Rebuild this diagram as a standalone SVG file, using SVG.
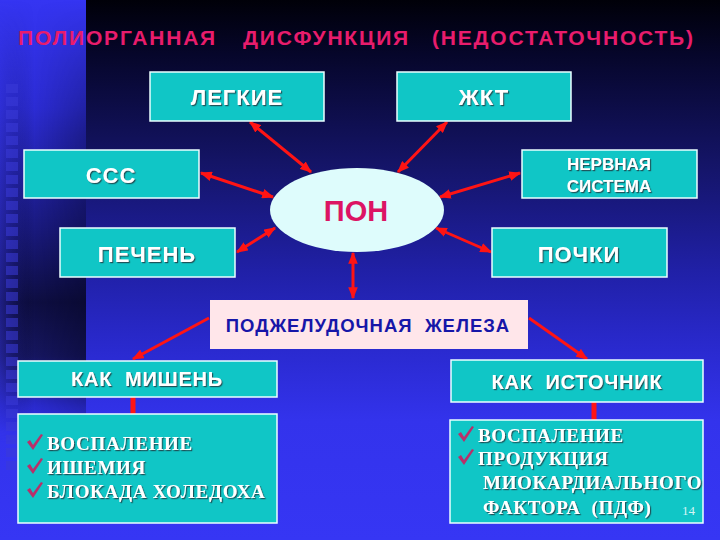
<svg xmlns="http://www.w3.org/2000/svg" width="720" height="540" viewBox="0 0 720 540">
<defs>
<linearGradient id="bgMain" x1="0" y1="0" x2="0" y2="1">
<stop offset="0" stop-color="#000008"/>
<stop offset="0.1" stop-color="#06062a"/>
<stop offset="0.3" stop-color="#141466"/>
<stop offset="0.5" stop-color="#2020a6"/>
<stop offset="0.65" stop-color="#2a2ad0"/>
<stop offset="0.78" stop-color="#3333ec"/>
<stop offset="1" stop-color="#3636f4"/>
</linearGradient>
<linearGradient id="bgStrip" x1="0" y1="0" x2="0" y2="1">
<stop offset="0" stop-color="#3535f2"/>
<stop offset="0.2" stop-color="#2c2cd4"/>
<stop offset="0.42" stop-color="#1a1a80"/>
<stop offset="0.56" stop-color="#0e0e42"/>
<stop offset="0.66" stop-color="#161660"/>
<stop offset="0.75" stop-color="#2a2acc"/>
<stop offset="0.8" stop-color="#3333ec"/>
<stop offset="1" stop-color="#3636f4"/>
</linearGradient>
<linearGradient id="stripShade" x1="0" y1="0" x2="1" y2="0">
<stop offset="0" stop-color="#3434d8" stop-opacity="0.45"/>
<stop offset="0.4" stop-color="#000010" stop-opacity="0"/>
<stop offset="1" stop-color="#000010" stop-opacity="0.3"/>
</linearGradient>
<linearGradient id="fadeV" x1="0" y1="0" x2="0" y2="1">
<stop offset="0" stop-color="#000"/>
<stop offset="0.25" stop-color="#fff"/>
<stop offset="0.7" stop-color="#fff"/>
<stop offset="0.82" stop-color="#000"/>
</linearGradient>
<mask id="stripMask" maskUnits="userSpaceOnUse" x="0" y="0" width="86" height="540">
<rect x="0" y="0" width="86" height="540" fill="url(#fadeV)"/>
</mask>
<filter id="sh" x="-10%" y="-20%" width="120%" height="140%">
<feDropShadow dx="1.2" dy="1.2" stdDeviation="0.4" flood-color="#1a4a50" flood-opacity="0.9"/>
</filter>
<marker id="ah" viewBox="0 0 4 3.2" refX="3.6" refY="1.6" markerWidth="4" markerHeight="3.2" orient="auto-start-reverse" markerUnits="strokeWidth">
<path d="M0,0 L4,1.6 L0,3.2 z" fill="#ff1414"/>
</marker>
</defs>
<style>
.box{fill:#10c6c6;stroke:#eaffff;stroke-width:1.5}
.lbl{font-family:"Liberation Sans",Arial,sans-serif;font-weight:bold;fill:#ffffff;text-anchor:middle;filter:url(#sh)}
.big{font-size:22px;letter-spacing:1px}
.mid{font-size:20px;letter-spacing:0.8px}
.ser{font-family:"Liberation Serif","Times New Roman",serif;font-weight:bold;fill:#ffffff;font-size:19px;letter-spacing:0.7px;filter:url(#sh)}
.con{stroke:#ff1414;stroke-width:3;fill:none}
.stub{stroke:#ff1414;stroke-width:5;fill:none}
.chk{fill:#b8306a}
.sq{fill:#3a3ad8;opacity:0.55}
</style>

<g id="background">
<rect x="0" y="0" width="720" height="540" fill="url(#bgMain)"/>
<rect x="0" y="0" width="86" height="540" fill="url(#bgStrip)"/>
<rect x="0" y="0" width="86" height="540" fill="url(#stripShade)" mask="url(#stripMask)"/>
<g>
<rect class="sq" x="6" y="84" width="12" height="9"/>
<rect class="sq" x="6" y="97" width="12" height="9"/>
<rect class="sq" x="6" y="110" width="12" height="9"/>
<rect class="sq" x="6" y="123" width="12" height="9"/>
<rect class="sq" x="6" y="136" width="12" height="9"/>
<rect class="sq" x="6" y="149" width="12" height="9"/>
<rect class="sq" x="6" y="162" width="12" height="9"/>
<rect class="sq" x="6" y="175" width="12" height="9"/>
<rect class="sq" x="6" y="188" width="12" height="9"/>
<rect class="sq" x="6" y="201" width="12" height="9"/>
<rect class="sq" x="6" y="214" width="12" height="9"/>
<rect class="sq" x="6" y="227" width="12" height="9"/>
<rect class="sq" x="6" y="240" width="12" height="9"/>
<rect class="sq" x="6" y="253" width="12" height="9"/>
<rect class="sq" x="6" y="266" width="12" height="9"/>
<rect class="sq" x="6" y="279" width="12" height="9"/>
<rect class="sq" x="6" y="292" width="12" height="9"/>
<rect class="sq" x="6" y="305" width="12" height="9"/>
<rect class="sq" x="6" y="318" width="12" height="9"/>
<rect class="sq" x="6" y="331" width="12" height="9"/>
<rect class="sq" x="6" y="344" width="12" height="9"/>
<rect class="sq" x="6" y="357" width="12" height="9"/>
<rect class="sq" x="6" y="370" width="12" height="9"/>
<rect class="sq" x="6" y="383" width="12" height="9"/>
<rect class="sq" x="6" y="396" width="12" height="9"/>
<rect class="sq" x="6" y="409" width="12" height="9"/>
<rect class="sq" x="6" y="422" width="12" height="9"/>
<rect class="sq" x="6" y="435" width="12" height="9"/>
<rect class="sq" x="6" y="448" width="12" height="9"/>
<rect class="sq" x="6" y="461" width="12" height="9"/>
</g>
</g>

<g id="title">
<text y="45" font-family="'Liberation Sans',Arial,sans-serif" font-weight="bold" font-size="21" letter-spacing="1.8" fill="#e81c6c"><tspan x="18">ПОЛИОРГАННАЯ</tspan><tspan x="243">ДИСФУНКЦИЯ</tspan><tspan x="432">(НЕДОСТАТОЧНОСТЬ)</tspan></text>
</g>

<g id="connectors">
<line class="con" x1="250" y1="122" x2="311" y2="172" marker-start="url(#ah)" marker-end="url(#ah)"/>
<line class="con" x1="447" y1="122" x2="398" y2="172" marker-start="url(#ah)" marker-end="url(#ah)"/>
<line class="con" x1="201" y1="173" x2="273" y2="197" marker-start="url(#ah)" marker-end="url(#ah)"/>
<line class="con" x1="520" y1="173" x2="440" y2="197" marker-start="url(#ah)" marker-end="url(#ah)"/>
<line class="con" x1="237" y1="252" x2="275" y2="228" marker-start="url(#ah)" marker-end="url(#ah)"/>
<line class="con" x1="491" y1="252" x2="436" y2="228" marker-start="url(#ah)" marker-end="url(#ah)"/>
<line class="con" x1="353" y1="253" x2="353" y2="298" marker-start="url(#ah)" marker-end="url(#ah)"/>
<line class="con" x1="209" y1="318" x2="133" y2="359" marker-end="url(#ah)"/>
<line class="con" x1="529" y1="318" x2="587" y2="359" marker-end="url(#ah)"/>
<line class="stub" x1="133" y1="397" x2="133" y2="414"/>
<line class="stub" x1="594" y1="402" x2="594" y2="420"/>
</g>

<g id="lungs">
<rect class="box" x="150" y="72" width="174" height="49"/>
<text class="lbl big" x="237" y="105">ЛЕГКИЕ</text>
</g>
<g id="gi">
<rect class="box" x="397" y="72" width="174" height="49"/>
<text class="lbl big" x="484" y="105">ЖКТ</text>
</g>
<g id="cvs">
<rect class="box" x="24" y="150" width="175" height="48"/>
<text class="lbl big" x="111" y="183">ССС</text>
</g>
<g id="nervous">
<rect class="box" x="522" y="150" width="175" height="48"/>
<text class="lbl" x="609" y="170" font-size="17">НЕРВНАЯ</text>
<text class="lbl" x="609" y="192" font-size="17">СИСТЕМА</text>
</g>
<g id="liver">
<rect class="box" x="60" y="228" width="175" height="49"/>
<text class="lbl big" x="147" y="262">ПЕЧЕНЬ</text>
</g>
<g id="kidneys">
<rect class="box" x="492" y="228" width="175" height="49"/>
<text class="lbl big" x="579" y="262">ПОЧКИ</text>
</g>
<g id="pon">
<ellipse cx="357" cy="210" rx="87" ry="42" fill="#defcfc"/>
<text x="356" y="221" font-family="'Liberation Sans',Arial,sans-serif" font-weight="bold" font-size="29" fill="#dc1464" text-anchor="middle">ПОН</text>
</g>
<g id="pancreas">
<rect x="210" y="300" width="318" height="49" fill="#ffe6ea"/>
<text x="368" y="332" font-family="'Liberation Sans',Arial,sans-serif" font-weight="bold" font-size="18.5" letter-spacing="1" fill="#1616a8" text-anchor="middle" xml:space="preserve">ПОДЖЕЛУДОЧНАЯ  ЖЕЛЕЗА</text>
</g>
<g id="target">
<rect class="box" x="18" y="361" width="259" height="36"/>
<text class="lbl mid" x="147" y="386" xml:space="preserve">КАК  МИШЕНЬ</text>
</g>
<g id="source">
<rect class="box" x="451" y="360" width="252" height="42"/>
<text class="lbl mid" x="577" y="389" xml:space="preserve">КАК  ИСТОЧНИК</text>
</g>
<g id="target-list">
<rect class="box" x="18" y="414" width="259" height="109"/>
<path class="chk" d="M27,442 L30,440 L33,445 L41,434 L43,435 L33,450 Z"/>
<path class="chk" d="M27,466 L30,464 L33,469 L41,458 L43,459 L33,474 Z"/>
<path class="chk" d="M27,490 L30,488 L33,493 L41,482 L43,483 L33,498 Z"/>
<text class="ser" x="47" y="450">ВОСПАЛЕНИЕ</text>
<text class="ser" x="47" y="474">ИШЕМИЯ</text>
<text class="ser" x="47" y="498">БЛОКАДА ХОЛЕДОХА</text>
</g>
<g id="source-list">
<rect class="box" x="450" y="420" width="253" height="103"/>
<path class="chk" d="M458,434 L461,432 L464,437 L472,426 L474,427 L464,442 Z"/>
<path class="chk" d="M458,457 L461,455 L464,460 L472,449 L474,450 L464,465 Z"/>
<text class="ser" x="478" y="442">ВОСПАЛЕНИЕ</text>
<text class="ser" x="478" y="465">ПРОДУКЦИЯ</text>
<text class="ser" x="483" y="489">МИОКАРДИАЛЬНОГО</text>
<text class="ser" x="483" y="514" xml:space="preserve">ФАКТОРА  (ПДФ)</text>
<text x="682" y="515" font-family="'Liberation Serif','Times New Roman',serif" font-size="13" fill="#d4f4f4">14</text>
</g>
</svg>
